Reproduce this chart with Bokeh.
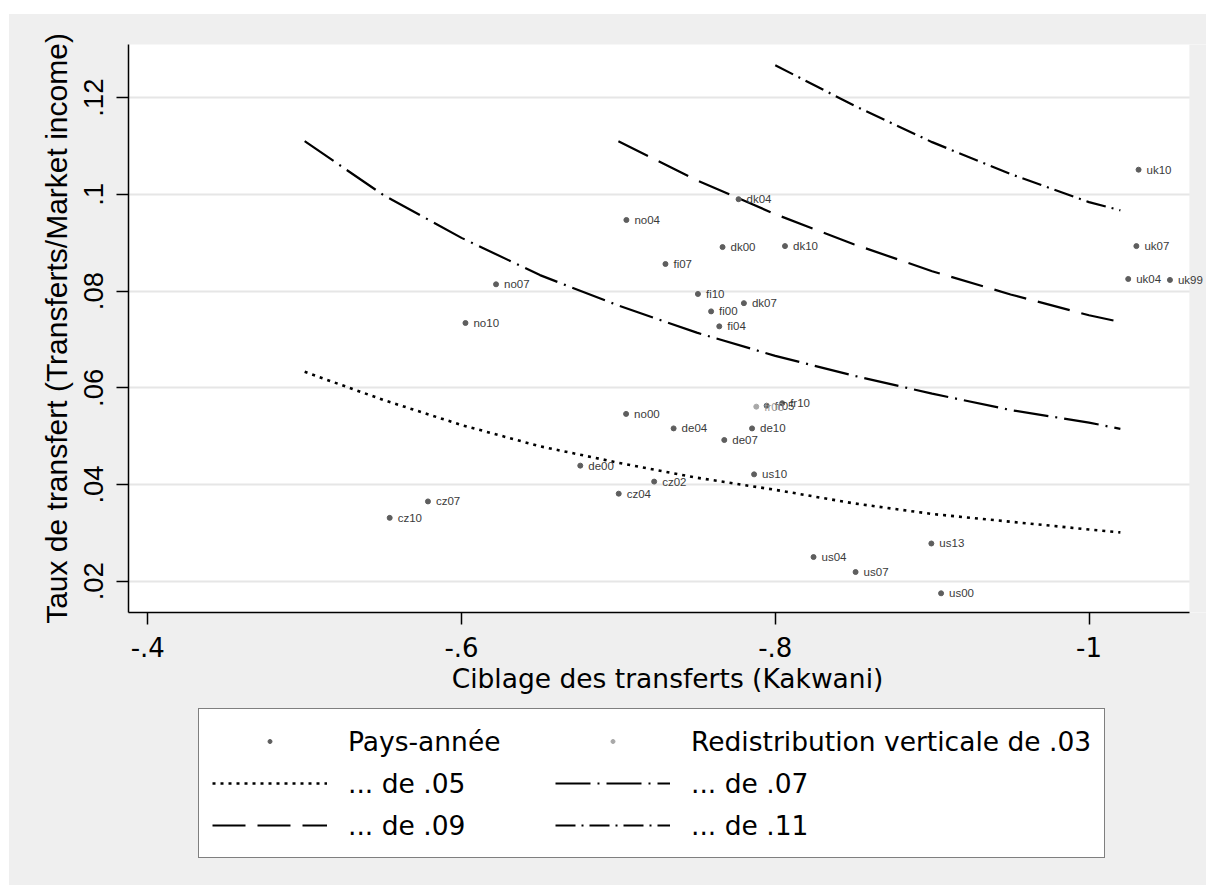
from bokeh.plotting import figure
from bokeh.models import (Range1d, FixedTicker, Legend, LegendItem, ColumnDataSource,
                          BoxAnnotation, Spacer)
from bokeh.layouts import column, row
from bokeh.core.properties import value
from bokeh.embed import file_html
from bokeh.resources import INLINE

# ---- data: country-year points (Kakwani targeting, transfer rate) ----
labels = ["no07", "no10", "uk10", "dk04", "no04", "dk00", "dk10", "fi07", "uk07", "uk04",
          "uk99", "fi10", "dk07", "fi00", "fi04", "no00", "de04", "de10", "de07", "fr05",
          "fr10", "us10", "cz02", "cz04", "us13", "us04", "us07", "us00", "cz07", "cz10", "de00"]
kakwani = [-0.622, -0.6025, -1.0316, -0.7766, -0.7051, -0.7664, -0.8062, -0.730, -1.0302, -1.025,
           -1.0516, -0.7507, -0.780, -0.7591, -0.7643, -0.7049, -0.7352, -0.7852, -0.7675, -0.7945,
           -0.8044, -0.7865, -0.7228, -0.7002, -0.8995, -0.8244, -0.8512, -0.9057, -0.5786, -0.5542, -0.6757]
rate = [0.0814, 0.0734, 0.1051, 0.0990, 0.0947, 0.0891, 0.0893, 0.0856, 0.0893, 0.0825,
        0.0823, 0.0794, 0.0775, 0.0758, 0.0727, 0.0546, 0.0516, 0.0516, 0.0492, 0.0563,
        0.0568, 0.0421, 0.0406, 0.0381, 0.0278, 0.0250, 0.0219, 0.0175, 0.0365, 0.0331, 0.0439]

# light grey series
labels_b = ["fr00"]
kakwani_b = [-0.7879]
rate_b = [0.0561]

# iso-redistribution curves
k_05 = [-0.5, -0.55, -0.6, -0.65, -0.7, -0.75, -0.8, -0.85, -0.9, -0.95, -1.0, -1.02]
r_05 = [0.0633, 0.0575, 0.0523, 0.0479, 0.0445, 0.0414, 0.0389, 0.0361, 0.0339, 0.0323, 0.0307, 0.0301]
k_07 = [-0.5, -0.55, -0.6, -0.65, -0.7, -0.75, -0.8, -0.85, -0.9, -0.95, -1.0, -1.02]
r_07 = [0.1110, 0.0999, 0.0910, 0.0833, 0.0770, 0.0714, 0.0666, 0.0625, 0.0588, 0.0554, 0.0528, 0.0515]
k_09 = [-0.7, -0.75, -0.8, -0.85, -0.9, -0.95, -1.0, -1.02]
r_09 = [0.1110, 0.1029, 0.0959, 0.0897, 0.0841, 0.0793, 0.0750, 0.0736]
k_11 = [-0.8, -0.85, -0.9, -0.95, -1.0, -1.02]
r_11 = [0.1267, 0.1184, 0.1108, 0.1042, 0.0984, 0.0967]

x_ticks = [-0.4, -0.6, -0.8, -1.0]
x_tick_labels = ["-.4", "-.6", "-.8", "-1"]
y_ticks = [0.02, 0.04, 0.06, 0.08, 0.10, 0.12]
y_tick_labels = [".02", ".04", ".06", ".08", ".1", ".12"]

legend_labels = ["Pays-année", "Redistribution verticale de .03", "... de .05",
                 "... de .07", "... de .09", "... de .11"]

X_START, X_PLOT_END, X_FRAME_END = -0.3877, -1.064, -1.0749
Y_START, Y_END = 0.01353, 0.13099

BG = "#EFEFEF"
DOT = "#5E5E5E"
DOT_B = "#A8A8A8"
LW = 2.2
DASH = {"05": "3 5", "07": "35 7 2 7", "09": "33 12", "11": "20 6 2 6"}


def draw_series(fig):
    """Draw the curves and the points on a figure; returns the renderers."""
    r05 = fig.line(k_05, r_05, line_color="black", line_width=2.6, line_dash=DASH["05"])
    r07 = fig.line(k_07, r_07, line_color="black", line_width=LW, line_dash=DASH["07"])
    r09 = fig.line(k_09, r_09, line_color="black", line_width=LW, line_dash=DASH["09"])
    r11 = fig.line(k_11, r_11, line_color="black", line_width=LW, line_dash=DASH["11"])
    sa = fig.scatter(kakwani, rate, size=5, color=DOT)
    sb = fig.scatter(kakwani_b, rate_b, size=5, color=DOT_B)
    return [sa, sb, r05, r07, r09, r11]


p = figure(width=1197, height=691, output_backend="svg", toolbar_location=None,
           x_range=Range1d(X_START, X_FRAME_END), y_range=Range1d(Y_START, Y_END),
           min_border_left=119, min_border_right=0, min_border_top=30, min_border_bottom=93)
p.background_fill_color = "white"
p.border_fill_color = BG
p.outline_line_color = None
p.xgrid.grid_line_color = None
p.ygrid.grid_line_color = "#E6E6E6"
p.ygrid.grid_line_width = 2

# grey strip to the right of the plot region (labels may spill into it)
p.add_layout(BoxAnnotation(left=X_PLOT_END, fill_color=BG, fill_alpha=1.0,
                           line_color=None, level="underlay"))

draw_series(p)
src = ColumnDataSource(dict(x=kakwani, y=rate, t=labels))
srcb = ColumnDataSource(dict(x=kakwani_b, y=rate_b, t=labels_b))
p.text("x", "y", text="t", source=src, x_offset=8, text_baseline="middle",
       text_font=value("Liberation Sans"), text_font_size="11.5px", text_color="#3A3A3A")
p.text("x", "y", text="t", source=srcb, x_offset=8, text_baseline="middle",
       text_font=value("Liberation Sans"), text_font_size="11.5px", text_color="#9A9A9A")

# axes
for ax in (p.xaxis[0], p.yaxis[0]):
    ax.axis_line_color = "black"
    ax.axis_line_width = 1.5
    ax.major_tick_line_color = "black"
    ax.major_tick_line_width = 1.5
    ax.major_tick_out = 12
    ax.major_tick_in = 0
    ax.minor_tick_line_color = None
    ax.major_label_text_color = "black"
    ax.axis_label_text_color = "black"
    ax.axis_label_text_font_style = "normal"

xa = p.xaxis[0]
xa.bounds = (X_START, X_PLOT_END)
xa.ticker = FixedTicker(ticks=x_ticks)
xa.major_label_overrides = dict(zip(x_ticks, x_tick_labels))
xa.major_label_text_font = "DejaVu Sans"
xa.major_label_text_font_size = "26px"
xa.major_label_standoff = 12
xa.axis_label = "Ciblage des transferts (Kakwani)"
xa.axis_label_text_font = "DejaVu Sans"
xa.axis_label_text_font_size = "26.5px"
xa.axis_label_standoff = 3

ya = p.yaxis[0]
ya.ticker = FixedTicker(ticks=y_ticks)
ya.major_label_overrides = dict(zip(y_ticks, y_tick_labels))
ya.major_label_text_font = "Liberation Sans"
ya.major_label_text_font_size = "27.5px"
ya.major_label_orientation = "vertical"
ya.major_label_standoff = 13
ya.axis_label = "Taux de transfert (Transferts/Market income)"
ya.axis_label_text_font = "Liberation Sans"
ya.axis_label_text_font_size = "30px"
ya.axis_label_standoff = 9

# ---- legend panel (separate figure below the plot; its series lie outside its view) ----
p2 = figure(width=1197, height=180, output_backend="svg", toolbar_location=None,
            x_range=Range1d(0, 1), y_range=Range1d(0, 1), min_border=0)
p2.axis.visible = False
p2.grid.visible = False
p2.background_fill_color = BG
p2.border_fill_color = BG
p2.outline_line_color = None
handles = draw_series(p2)

legend = Legend(items=[LegendItem(label=lab, renderers=[g])
                       for lab, g in zip(legend_labels, handles)],
                location=(70, 27), orientation="horizontal", ncols=2)
legend.label_text_font = "DejaVu Sans"
legend.label_text_font_size = "26.5px"
legend.label_text_color = "black"
legend.glyph_width = 115
legend.glyph_height = 10
legend.label_height = 38
legend.label_width = 203
legend.label_standoff = 21
legend.padding = 13
legend.spacing = 4
legend.margin = 0
legend.border_line_color = "black"
legend.border_line_width = 1.5
legend.background_fill_color = "white"
legend.background_fill_alpha = 1.0
p2.add_layout(legend, "center")

inner = column(p, p2, styles={"background-color": BG})
layout = column(Spacer(width=1206, height=14),
                row(Spacer(width=9, height=871), inner))
open("out.html", "w").write(file_html(layout, INLINE))
